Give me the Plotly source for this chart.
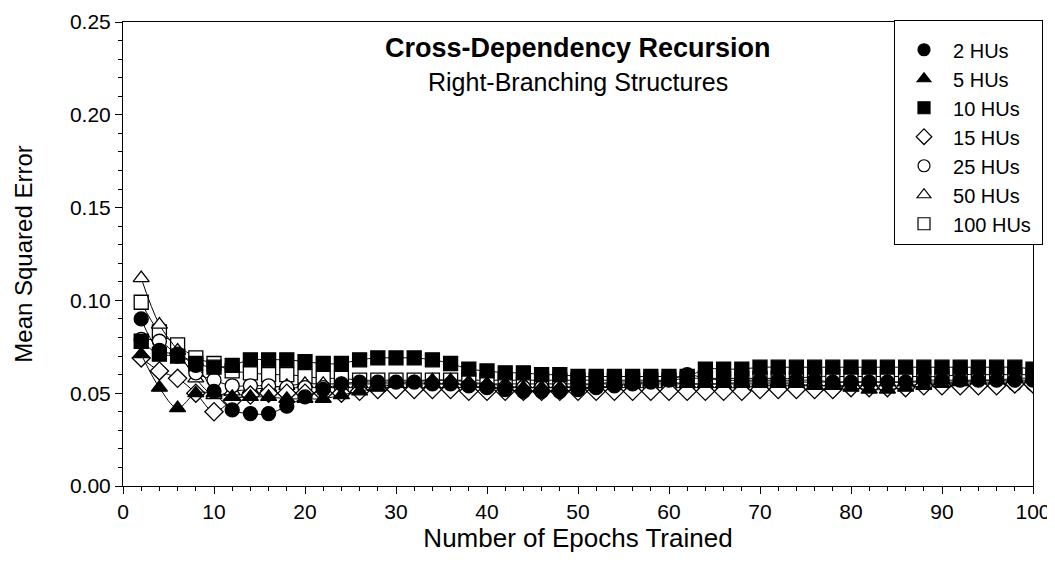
import plotly.graph_objects as go

# epochs trained (every 2 epochs)
epochs = list(range(2, 101, 2))

mse_2 = [0.090, 0.073, 0.071, 0.065, 0.051, 0.041, 0.039, 0.039, 0.043, 0.048,
         0.052, 0.055, 0.056, 0.056, 0.056, 0.056, 0.055, 0.055, 0.054, 0.053,
         0.052, 0.051, 0.051, 0.051, 0.052, 0.053, 0.054, 0.055, 0.056, 0.057,
         0.060, 0.058, 0.057, 0.057, 0.057, 0.057, 0.057, 0.057, 0.056, 0.056,
         0.056, 0.056, 0.056, 0.057, 0.057, 0.057, 0.057, 0.057, 0.057, 0.057]
mse_5 = [0.071, 0.053, 0.042, 0.050, 0.050, 0.048, 0.048, 0.048, 0.047, 0.047,
         0.047, 0.049, 0.051, 0.053, 0.055, 0.056, 0.057, 0.057, 0.056, 0.055,
         0.054, 0.053, 0.053, 0.053, 0.054, 0.055, 0.056, 0.056, 0.056, 0.056,
         0.055, 0.055, 0.055, 0.055, 0.055, 0.055, 0.055, 0.054, 0.054, 0.053,
         0.052, 0.052, 0.053, 0.054, 0.055, 0.056, 0.057, 0.057, 0.058, 0.058]
mse_10 = [0.078, 0.071, 0.070, 0.066, 0.064, 0.065, 0.068, 0.068, 0.068, 0.067,
          0.066, 0.066, 0.068, 0.069, 0.069, 0.069, 0.068, 0.066, 0.063, 0.062,
          0.061, 0.061, 0.060, 0.060, 0.059, 0.059, 0.059, 0.059, 0.059, 0.059,
          0.059, 0.063, 0.063, 0.063, 0.064, 0.064, 0.064, 0.064, 0.064, 0.064,
          0.064, 0.064, 0.064, 0.064, 0.064, 0.064, 0.064, 0.064, 0.064, 0.063]
mse_15 = [0.069, 0.062, 0.058, 0.050, 0.040, 0.046, 0.049, 0.050, 0.050, 0.050,
          0.050, 0.050, 0.051, 0.052, 0.052, 0.052, 0.052, 0.052, 0.051, 0.051,
          0.051, 0.051, 0.051, 0.051, 0.051, 0.051, 0.051, 0.051, 0.051, 0.051,
          0.051, 0.051, 0.051, 0.051, 0.052, 0.052, 0.052, 0.052, 0.052, 0.053,
          0.053, 0.053, 0.053, 0.054, 0.054, 0.054, 0.054, 0.054, 0.055, 0.055]
mse_25 = [0.079, 0.078, 0.070, 0.061, 0.057, 0.054, 0.054, 0.054, 0.053, 0.053,
          0.053, 0.053, 0.053, 0.053, 0.053, 0.053, 0.053, 0.053, 0.053, 0.053,
          0.053, 0.053, 0.053, 0.053, 0.053, 0.053, 0.053, 0.053, 0.053, 0.053,
          0.053, 0.053, 0.053, 0.053, 0.054, 0.054, 0.054, 0.054, 0.054, 0.054,
          0.054, 0.054, 0.054, 0.055, 0.055, 0.055, 0.055, 0.055, 0.055, 0.055]
mse_50 = [0.112, 0.087, 0.073, 0.058, 0.049, 0.051, 0.052, 0.053, 0.054, 0.055,
          0.055, 0.055, 0.055, 0.055, 0.055, 0.055, 0.055, 0.055, 0.055, 0.055,
          0.055, 0.055, 0.055, 0.055, 0.055, 0.055, 0.055, 0.055, 0.055, 0.055,
          0.055, 0.055, 0.055, 0.056, 0.056, 0.056, 0.056, 0.056, 0.056, 0.056,
          0.056, 0.056, 0.056, 0.056, 0.056, 0.056, 0.056, 0.056, 0.056, 0.056]
mse_100 = [0.099, 0.083, 0.076, 0.069, 0.066, 0.062, 0.061, 0.060, 0.060, 0.059,
           0.058, 0.058, 0.057, 0.057, 0.057, 0.057, 0.057, 0.057, 0.057, 0.057,
           0.057, 0.057, 0.057, 0.057, 0.057, 0.057, 0.057, 0.057, 0.057, 0.057,
           0.058, 0.058, 0.058, 0.058, 0.058, 0.058, 0.058, 0.059, 0.059, 0.059,
           0.059, 0.059, 0.059, 0.059, 0.059, 0.060, 0.060, 0.060, 0.060, 0.060]

series_names = ["2 HUs", "5 HUs", "10 HUs", "15 HUs", "25 HUs", "50 HUs", "100 HUs"]
series_vals = [mse_2, mse_5, mse_10, mse_15, mse_25, mse_50, mse_100]
symbols = ["circle", "triangle-up", "square", "diamond-open", "circle-open",
           "triangle-up-open", "square-open"]

FONT = "Liberation Sans, Arial, sans-serif"

fig = go.Figure()

# open markers underneath, filled markers on top
order = [6, 5, 4, 3, 0, 1, 2]
for i in order:
    sym = symbols[i]
    fill = "white" if "open" in sym else "black"
    fig.add_trace(go.Scatter(
        x=epochs, y=series_vals[i], mode="lines+markers", name=series_names[i],
        showlegend=False,
        line=dict(color="black", width=1, shape="spline", smoothing=1),
        marker=dict(symbol=sym.replace("-open", ""), size=14, color=fill,
                    line=dict(color="black", width=1.3)),
    ))

# legend entries (markers only); trailing nbsp gives the box some right padding
for name, sym in zip(series_names, symbols):
    fig.add_trace(go.Scatter(
        x=[None], y=[None], mode="markers", name=name + "\u00a0",
        marker=dict(symbol=sym, size=12, color="black", line=dict(color="black", width=1.2)),
    ))

fig.add_annotation(text="<b>Cross-Dependency Recursion</b>", xref="paper", yref="paper",
                   x=0.5, y=0.944, yanchor="middle", showarrow=False,
                   font=dict(size=27, color="black"))
fig.add_annotation(text="Right-Branching Structures", xref="paper", yref="paper",
                   x=0.5, y=0.871, yanchor="middle", showarrow=False,
                   font=dict(size=25, color="black"))

fig.update_xaxes(
    range=[0, 100], dtick=10, tick0=0, showline=True, linecolor="black", linewidth=1,
    mirror=True, ticks="outside", ticklen=7, tickcolor="black", showgrid=False, zeroline=False,
    minor=dict(ticks="outside", dtick=2, ticklen=4, tickcolor="black"),
    title=dict(text="Number of Epochs Trained", font=dict(size=26), standoff=4),
    tickfont=dict(size=21), ticklabeloverflow="allow", automargin=False,
)
fig.update_yaxes(
    range=[0, 0.25], dtick=0.05, tick0=0, tickformat=".2f", showline=True, linecolor="black",
    linewidth=1, mirror=True, ticks="outside", ticklen=7, tickcolor="black", showgrid=False,
    zeroline=False,
    minor=dict(ticks="outside", dtick=0.01, ticklen=4, tickcolor="black"),
    title=dict(text="Mean Squared Error", font=dict(size=24), standoff=30),
    tickfont=dict(size=21), ticklabeloverflow="allow", automargin=False,
)

# page body adds an 8px offset, so the figure is shrunk to compensate
fig.update_layout(
    width=1047, height=553,
    margin=dict(l=115, r=22, t=12, b=75),
    plot_bgcolor="white", paper_bgcolor="white",
    font=dict(family=FONT, color="black"),
    legend=dict(x=1.011, y=1.004, xanchor="right", yanchor="top", bgcolor="white",
                bordercolor="black", borderwidth=1, font=dict(size=20),
                title=dict(text=" ", font=dict(size=7)),
                tracegroupgap=0, itemwidth=48),
)

fig.write_html("out.html")
